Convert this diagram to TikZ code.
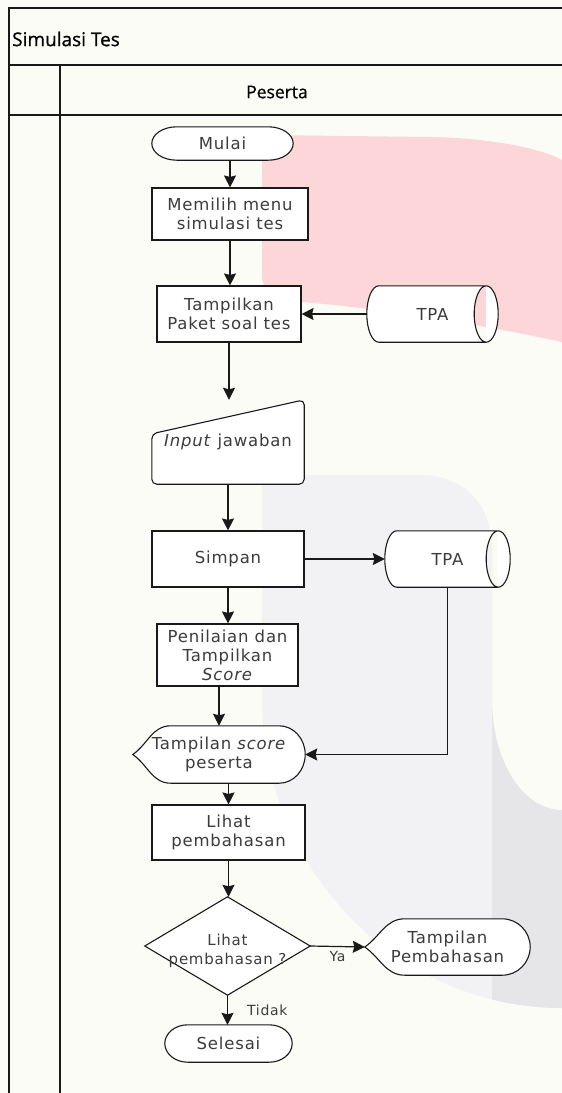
\documentclass[tikz,border=0pt]{standalone}
\usepackage{fontspec}
\setmainfont{DejaVu Sans}[LetterSpace=5]
\newfontfamily\hdrfont[FakeBold=0.8]{Open Sans}
\usetikzlibrary{arrows.meta,calc}
\pgfdeclarelayer{bg}
\pgfdeclarelayer{shp}
\pgfsetlayers{bg,shp,main}
\definecolor{pagebg}{RGB}{252,252,247}
\definecolor{wmpink}{RGB}{252,214,217}
\definecolor{wmlight}{RGB}{242,242,244}
\definecolor{wmdark}{RGB}{230,230,233}
\definecolor{txtc}{RGB}{60,60,60}
\definecolor{linec}{RGB}{25,25,25}
\newcommand\termshape[2]{\draw[shpline] let \p1=(#1.north west), \p2=(#1.south east) in
  (\x1+#2,\y1) -- (\x2-#2,\y1) arc[start angle=90,end angle=-90,x radius=#2,y radius={(\y1-\y2)/2}]
  -- (\x1+#2,\y2) arc[start angle=270,end angle=90,x radius=#2,y radius={(\y1-\y2)/2}] -- cycle;}
\newcommand\cylshape[2]{\draw[shpline] let \p1=(#1.north west), \p2=(#1.south east) in
  (\x1+#2,\y1) -- (\x2-#2,\y1) arc[start angle=90,end angle=-90,x radius=#2,y radius={(\y1-\y2)/2}]
  -- (\x1+#2,\y2) arc[start angle=270,end angle=90,x radius=#2,y radius={(\y1-\y2)/2}] -- cycle
  (\x2-#2,\y1) arc[start angle=90,end angle=270,x radius=#2,y radius={(\y1-\y2)/2}];}
\newcommand\dispshape[3]{\draw[shpline] let \p1=(#1.north west), \p2=(#1.south east) in
  (\x1,{(\y1+\y2)/2}) to[out=35,in=180] (\x1+#2,\y1) -- (\x2-#3,\y1)
  arc[start angle=90,end angle=-90,x radius=#3,y radius={(\y1-\y2)/2}]
  -- (\x1+#2,\y2) to[out=180,in=-35] (\x1,{(\y1+\y2)/2}) -- cycle;}
\newcommand\inshape[2]{\draw[shpline,rounded corners=5pt] let \p1=(#1.north west), \p2=(#1.south east) in
  (\x1+10pt,\y2) -- (\x1,\y2) -- (\x1,\y1-#2) -- (\x2,\y1) -- (\x2,\y2) -- (\x1+10pt,\y2);}
\begin{document}
\begin{tikzpicture}[x=1pt,y=-1pt,
  txt/.style={inner sep=0pt, align=center, text=txtc, font=\fontsize{16.5}{19}\selectfont},
  proc/.style={txt, draw=linec, fill=white, line width=1.1pt},
  shpline/.style={draw=linec, fill=white, line width=1.1pt},
  arr/.style={-{Stealth[length=12pt,width=12pt,inset=1.5pt]}, line width=1.2pt, draw=linec},
  lbl/.style={inner sep=1pt, text=txtc, font=\fontsize{14}{16}\selectfont},
  hdr/.style={inner sep=0pt, text=black, font=\hdrfont\fontsize{17.5}{20}\selectfont},
  frame/.style={line width=1.4pt, draw=linec}]
\useasboundingbox (0,0) rectangle (562,1093);
\begin{pgfonlayer}{bg}
  \fill[pagebg] (0,0) rectangle (562,1093);
  \fill[wmpink] (262,135) -- (430,137) .. controls (490,138) and (540,148) .. (562,160)
    -- (562,342) .. controls (470,322) and (360,306) .. (300,302)
    .. controls (275,300) and (262,292) .. (262,275) -- cycle;
  \fill[wmlight] (262,475) -- (420,475) .. controls (465,475) and (492,505) .. (492,550)
    -- (492,700) .. controls (492,761) and (523,810) .. (562,810)
    -- (562,1008) .. controls (396,1008) and (262,868) .. (262,700) -- cycle;
  \begin{scope}
    \clip (492,0) rectangle (562,1093);
    \fill[wmdark] (262,475) -- (420,475) .. controls (465,475) and (492,505) .. (492,550)
      -- (492,700) .. controls (492,761) and (523,810) .. (562,810)
      -- (562,1008) .. controls (396,1008) and (262,868) .. (262,700) -- cycle;
  \end{scope}
\end{pgfonlayer}
% frame
\draw[frame] (9,1093) -- (9,8) -- (562,8);
\draw[frame] (9,65) -- (562,65);
\draw[frame] (9,115) -- (562,115);
\draw[frame] (60,65) -- (60,1093);
\node[hdr, anchor=west, font=\hdrfont\fontsize{19}{22}\selectfont] (title) at (12,39) {Simulasi Tes};
\node[hdr] (lane) at (277,92) {Peserta};
% nodes
\node[txt, minimum width=141pt, minimum height=33pt] (mulai) at (222.5,143.5) {Mulai};
\node[proc, minimum width=156pt, minimum height=52pt] (memilih) at (230,214) {Memilih menu\\simulasi tes};
\node[proc, minimum width=144pt, minimum height=56pt] (tampilkan) at (229,314) {Tampilkan\\Paket soal tes};
\node[txt, minimum width=131pt, minimum height=56pt] (tpa1) at (432.5,314) {TPA};
\node[txt, minimum width=152pt, minimum height=84pt] (input) at (228,442) {\textit{Input} jawaban};
\node[proc, minimum width=152pt, minimum height=56pt] (simpan) at (228,559) {Simpan};
\node[txt, minimum width=125pt, minimum height=56pt] (tpa2) at (447.5,559) {TPA};
\node[proc, minimum width=141pt, minimum height=62pt] (penilaian) at (227.5,655) {Penilaian dan\\Tampilkan\\\textit{Score}};
\node[txt, minimum width=172pt, minimum height=57pt] (tscore) at (219,754.5) {Tampilan \textit{score}\\peserta};
\node[proc, minimum width=153pt, minimum height=55pt] (lihat) at (228.5,832.5) {Lihat\\pembahasan};
\node[txt, minimum width=165pt, minimum height=98pt,
  label={[txt, font=\fontsize{15}{19}\selectfont, yshift=-5pt]center:{Lihat\\pembahasan ?}}] (dec) at (227.5,946) {};
\node[txt, minimum width=165pt, minimum height=56pt] (tpemb) at (447.5,947) {Tampilan\\Pembahasan};
\node[txt, minimum width=127pt, minimum height=37pt] (selesai) at (228.5,1043.5) {Selesai};
% shapes
\begin{pgfonlayer}{shp}
  \termshape{mulai}{25pt}
  \termshape{selesai}{23pt}
  \cylshape{tpa1}{12pt}
  \cylshape{tpa2}{12pt}
  \inshape{input}{34pt}
  \dispshape{tscore}{38pt}{26pt}
  \dispshape{tpemb}{40pt}{28pt}
  \draw[shpline] (dec.north) -- (dec.east) -- (dec.south) -- (dec.west) -- cycle;
\end{pgfonlayer}
% connectors
\draw[arr] (memilih.north |- mulai.south) -- (memilih.north);
\draw[arr] (memilih.south) -- (memilih.south |- tampilkan.north);
\draw[arr] (tpa1.west) -- (tampilkan.east);
\draw[arr] (tampilkan.south) -- (tampilkan.south |- input.north);
\draw[arr] (input.south) -- (input.south |- simpan.north);
\draw[arr] (simpan.east) -- (tpa2.west);
\draw[arr] (simpan.south) -- (simpan.south |- penilaian.north);
\draw[arr] (tscore.north |- penilaian.south) -- (tscore.north);
\draw[arr] (tpa2.south) |- (tscore.east);
\draw[arr] (lihat.north |- tscore.south) -- (lihat.north);
\draw[arr] (lihat.south) -- (lihat.south |- dec.north);
\draw[arr] (dec.east) -- node[lbl, below=3pt] (ya) {Ya} (tpemb.west);
\draw[arr] (dec.south) -- node[lbl, right=18pt] (tidak) {Tidak} (dec.south |- selesai.north);
\end{tikzpicture}
\end{document}
